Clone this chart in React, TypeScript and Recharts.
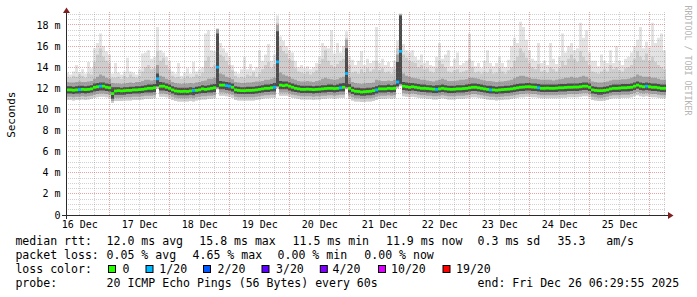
import React from 'react';
import { ComposedChart, Area, Scatter, XAxis, YAxis, ReferenceLine } from 'recharts';

// ---- time base: 10 days, 200 samples of 72 min, start Dec 16 06:30 ----
const STEP_MIN = 72;
const SPAN_MIN = 14400;
const FIRST_NOON = 330; // minutes from start to Dec 16 12:00
const FIRST_MIDNIGHT = 1050; // minutes from start to Dec 17 00:00

const dayLabels = ['16 Dec', '17 Dec', '18 Dec', '19 Dec', '20 Dec', '21 Dec', '22 Dec', '23 Dec', '24 Dec', '25 Dec'];
const yTicks = [0, 2, 4, 6, 8, 10, 12, 14, 16, 18];

// median rtt (ms)
const median = [
  11.85, 11.85, 11.82, 11.85, 11.88, 11.9, 11.88, 11.9, 11.95, 12.1,
  12.15, 12.2, 12.2, 12.1, 12.05, 11.5, 11.75, 11.78, 11.75, 11.78,
  11.8, 11.8, 11.85, 11.85, 11.88, 11.9, 11.95, 12.0, 12.0, 12.05,
  12.9, 12.2, 12.2, 12.1, 12.0, 11.85, 11.75, 11.72, 11.7, 11.72,
  11.7, 11.75, 11.8, 11.8, 11.85, 11.95, 11.9, 11.95, 12.0, 12.05,
  14.0, 12.3, 12.3, 12.25, 12.2, 12.1, 11.85, 11.8, 11.78, 11.78,
  11.8, 11.8, 11.82, 11.85, 11.9, 11.95, 12.0, 12.0, 12.05, 12.1,
  14.5, 12.3, 12.25, 12.3, 12.2, 12.1, 12.0, 11.95, 11.9, 11.9,
  11.92, 11.9, 11.88, 11.9, 11.92, 11.95, 11.98, 12.0, 12.0, 11.98,
  12.0, 12.05, 12.1, 13.4, 12.0, 11.8, 11.72, 11.7, 11.65, 11.68,
  11.7, 11.72, 11.78, 11.85, 11.95, 11.95, 11.95, 12.0, 11.98, 12.0,
  12.6, 15.5, 12.2, 12.15, 12.1, 12.15, 12.1, 12.05, 12.0, 12.0,
  11.98, 11.95, 11.92, 11.9, 11.95, 12.0, 11.95, 11.92, 11.9, 11.92,
  11.95, 11.95, 11.98, 12.0, 12.05, 12.1, 12.1, 12.05, 12.0, 11.95,
  11.9, 11.85, 11.85, 11.82, 11.85, 11.88, 11.9, 11.92, 11.95, 12.0,
  12.05, 12.1, 12.12, 12.15, 12.15, 12.12, 12.1, 12.05, 12.0, 12.0,
  12.02, 12.0, 12.0, 12.02, 12.05, 12.05, 12.08, 12.1, 12.1, 12.12,
  12.12, 12.15, 12.2, 12.2, 12.1, 11.85, 11.8, 11.78, 11.78, 11.8,
  11.85, 11.95, 12.0, 12.0, 12.02, 12.05, 12.05, 12.08, 12.1, 12.2,
  12.3, 12.2, 12.15, 12.2, 12.15, 12.1, 12.1, 12.05, 12.0, 12.0,
];

// sample indices whose median carries 1/20 packet loss
const lossPoints = [4, 11, 30, 42, 50, 53, 54, 69, 70, 91, 93, 103, 110, 111, 123, 141, 157, 193];

// darkest smoke band (top / bottom)
const darkHi = [
  12.2, 12.2, 12.15, 12.2, 12.25, 12.25, 12.2, 12.25, 12.3, 12.45,
  12.5, 12.55, 12.55, 12.45, 12.4, 12.1, 12.1, 12.1, 12.05, 12.1,
  12.1, 12.15, 12.15, 12.2, 12.2, 12.25, 12.3, 12.35, 12.35, 12.4,
  13.4, 12.6, 12.55, 12.45, 12.35, 12.2, 12.1, 12.05, 12.05, 12.05,
  12.05, 12.1, 12.05, 12.15, 12.2, 12.3, 12.25, 12.3, 12.35, 12.4,
  17.2, 12.7, 12.65, 12.6, 12.55, 12.45, 12.2, 12.15, 12.1, 12.1,
  12.15, 12.15, 12.15, 12.2, 12.25, 12.3, 12.35, 12.35, 12.4, 12.5,
  17.4, 12.7, 12.65, 12.65, 12.55, 12.45, 12.35, 12.3, 12.25, 12.25,
  12.25, 12.25, 12.2, 12.25, 12.25, 12.3, 12.3, 12.35, 12.35, 12.3,
  12.35, 12.45, 12.5, 15.8, 12.4, 12.15, 12.05, 12.05, 12.0, 12.0,
  12.05, 12.05, 12.1, 12.2, 12.3, 12.3, 12.3, 12.35, 12.3, 12.35,
  14.5, 18.9, 12.6, 12.55, 12.5, 12.5, 12.45, 12.4, 12.35, 12.35,
  12.3, 12.3, 12.25, 12.3, 12.3, 12.35, 12.3, 12.25, 12.25, 12.25,
  12.3, 12.3, 12.3, 12.35, 12.4, 12.45, 12.45, 12.4, 12.35, 12.3,
  12.25, 12.25, 12.2, 12.15, 12.2, 12.2, 12.25, 12.25, 12.3, 12.35,
  12.4, 12.45, 12.45, 12.5, 12.5, 12.45, 12.45, 12.4, 12.35, 12.35,
  12.35, 12.35, 12.35, 12.35, 12.4, 12.4, 12.4, 12.45, 12.45, 12.45,
  12.45, 12.5, 12.55, 12.55, 12.45, 12.2, 12.15, 12.1, 12.1, 12.15,
  12.2, 12.3, 12.35, 12.35, 12.35, 12.4, 12.4, 12.4, 12.45, 12.55,
  12.65, 12.55, 12.5, 12.55, 12.5, 12.45, 12.45, 12.4, 12.35, 12.35,
];
const darkLo = [
  11.5, 11.5, 11.45, 11.5, 11.5, 11.55, 11.5, 11.55, 11.6, 11.7,
  11.75, 11.8, 11.8, 11.75, 11.7, 11.0, 11.4, 11.4, 11.4, 11.4,
  11.45, 11.45, 11.5, 11.5, 11.5, 11.55, 11.6, 11.6, 11.6, 11.65,
  12.2, 11.8, 11.8, 11.75, 11.65, 11.5, 11.4, 11.35, 11.35, 11.35,
  11.35, 11.4, 11.35, 11.45, 11.5, 11.55, 11.55, 11.6, 11.6, 11.65,
  12.1, 11.9, 11.9, 11.85, 11.8, 11.7, 11.5, 11.45, 11.45, 11.45,
  11.45, 11.45, 11.45, 11.5, 11.55, 11.6, 11.65, 11.65, 11.7, 11.7,
  12.2, 11.9, 11.9, 11.9, 11.8, 11.7, 11.65, 11.6, 11.55, 11.55,
  11.55, 11.55, 11.5, 11.55, 11.55, 11.6, 11.6, 11.65, 11.65, 11.6,
  11.65, 11.7, 11.7, 12.1, 11.6, 11.45, 11.35, 11.35, 11.3, 11.3,
  11.35, 11.35, 11.4, 11.5, 11.6, 11.6, 11.6, 11.65, 11.6, 11.65,
  12.2, 12.4, 11.85, 11.8, 11.75, 11.8, 11.75, 11.7, 11.65, 11.65,
  11.6, 11.6, 11.55, 11.55, 11.6, 11.65, 11.6, 11.55, 11.55, 11.55,
  11.6, 11.6, 11.6, 11.65, 11.7, 11.75, 11.75, 11.7, 11.65, 11.6,
  11.55, 11.5, 11.5, 11.45, 11.5, 11.5, 11.55, 11.55, 11.6, 11.65,
  11.7, 11.75, 11.75, 11.8, 11.8, 11.75, 11.75, 11.7, 11.65, 11.65,
  11.65, 11.65, 11.65, 11.65, 11.7, 11.7, 11.7, 11.75, 11.75, 11.75,
  11.75, 11.8, 11.85, 11.85, 11.75, 11.5, 11.45, 11.4, 11.4, 11.45,
  11.5, 11.6, 11.65, 11.65, 11.65, 11.7, 11.7, 11.7, 11.75, 11.85,
  11.95, 11.85, 11.8, 11.85, 11.8, 11.75, 11.75, 11.7, 11.65, 11.65,
];

// middle smoke band (top / bottom)
const midHi = [
  12.6, 12.55, 12.55, 12.6, 12.65, 12.6, 12.6, 12.65, 12.7, 12.9,
  13.1, 13.3, 13.2, 13.0, 12.9, 12.5, 12.45, 12.45, 12.4, 12.45,
  12.5, 12.55, 12.5, 12.6, 12.6, 12.7, 12.8, 12.8, 12.75, 12.8,
  14.2, 13.2, 13.1, 12.9, 12.8, 12.6, 12.5, 12.45, 12.4, 12.45,
  12.45, 12.5, 12.45, 12.55, 12.6, 12.7, 12.75, 12.9, 12.9, 13.0,
  17.6, 13.4, 13.3, 13.1, 13.0, 12.85, 12.6, 12.55, 12.5, 12.5,
  12.55, 12.55, 12.6, 12.65, 12.65, 12.7, 12.8, 12.8, 12.9, 13.0,
  18.0, 13.5, 13.3, 13.2, 13.1, 12.9, 12.8, 12.7, 12.65, 12.65,
  12.7, 12.65, 12.6, 12.7, 12.75, 12.9, 13.0, 12.9, 12.85, 12.8,
  12.85, 13.0, 13.1, 16.6, 13.0, 12.6, 12.5, 12.45, 12.4, 12.45,
  12.5, 12.5, 12.55, 12.8, 12.75, 12.7, 12.7, 12.75, 12.7, 12.8,
  15.2, 19.0, 13.4, 13.2, 13.1, 13.0, 12.95, 12.9, 12.8, 12.8,
  12.75, 12.7, 12.65, 12.75, 12.8, 12.9, 12.8, 12.7, 12.7, 12.7,
  12.75, 12.8, 12.8, 12.85, 13.0, 13.0, 12.95, 12.9, 12.8, 12.75,
  12.7, 12.7, 12.65, 12.6, 12.65, 12.65, 12.7, 12.75, 12.8, 12.95,
  13.1, 13.2, 13.2, 13.1, 13.0, 12.9, 12.9, 12.85, 12.8, 12.8,
  12.8, 12.8, 12.75, 12.8, 12.85, 12.9, 13.0, 13.0, 13.1, 13.0,
  13.0, 13.1, 13.2, 13.1, 12.9, 12.65, 12.6, 12.55, 12.55, 12.6,
  12.65, 12.75, 12.8, 12.8, 12.8, 12.85, 12.85, 12.9, 13.0, 13.1,
  13.3, 13.2, 13.1, 13.1, 13.1, 13.0, 13.0, 12.9, 12.8, 12.8,
];
const midLo = [
  11.2, 11.2, 11.15, 11.2, 11.2, 11.25, 11.2, 11.25, 11.3, 11.4,
  11.45, 11.5, 11.5, 11.45, 11.4, 10.8, 11.1, 11.1, 11.1, 11.15,
  11.15, 11.15, 11.2, 11.2, 11.2, 11.25, 11.3, 11.3, 11.3, 11.35,
  12.1, 11.5, 11.5, 11.45, 11.35, 11.2, 11.1, 11.05, 11.05, 11.05,
  11.05, 11.1, 11.05, 11.15, 11.2, 11.25, 11.25, 11.3, 11.3, 11.35,
  12.0, 11.6, 11.6, 11.55, 11.5, 11.4, 11.2, 11.15, 11.15, 11.15,
  11.15, 11.15, 11.15, 11.2, 11.25, 11.3, 11.35, 11.35, 11.4, 11.4,
  12.1, 11.6, 11.6, 11.6, 11.5, 11.4, 11.35, 11.3, 11.25, 11.25,
  11.25, 11.25, 11.2, 11.25, 11.25, 11.3, 11.3, 11.35, 11.35, 11.3,
  11.35, 11.4, 11.4, 12.0, 11.3, 11.15, 11.05, 11.05, 11.0, 11.0,
  11.05, 11.05, 11.1, 11.2, 11.3, 11.3, 11.3, 11.35, 11.3, 11.35,
  12.1, 12.3, 11.55, 11.5, 11.45, 11.5, 11.45, 11.4, 11.35, 11.35,
  11.3, 11.3, 11.25, 11.25, 11.3, 11.35, 11.3, 11.25, 11.25, 11.25,
  11.3, 11.3, 11.3, 11.35, 11.4, 11.45, 11.45, 11.4, 11.35, 11.3,
  11.25, 11.2, 11.2, 11.15, 11.2, 11.2, 11.25, 11.25, 11.3, 11.35,
  11.4, 11.45, 11.45, 11.5, 11.5, 11.45, 11.45, 11.4, 11.35, 11.35,
  11.35, 11.35, 11.35, 11.35, 11.4, 11.4, 11.4, 11.45, 11.45, 11.45,
  11.45, 11.5, 11.55, 11.55, 11.45, 11.2, 11.15, 11.1, 11.1, 11.15,
  11.2, 11.3, 11.35, 11.35, 11.35, 11.4, 11.4, 11.4, 11.45, 11.55,
  11.65, 11.55, 11.5, 11.55, 11.5, 11.45, 11.45, 11.4, 11.35, 11.35,
];

// light smoke band top
const lightHi = [
  13.1, 13.0, 13.2, 13.1, 13.3, 13.2, 13.0, 13.4, 13.3, 14.5,
  15.2, 15.8, 15.0, 14.6, 14.4, 13.0, 13.0, 13.1, 12.9, 13.2,
  13.0, 13.3, 13.1, 13.0, 13.2, 13.6, 14.0, 14.2, 13.8, 13.9,
  15.5, 14.6, 14.9, 14.2, 13.8, 13.2, 13.0, 13.1, 12.9, 13.0,
  13.2, 13.0, 13.1, 13.3, 13.2, 13.5, 14.6, 15.0, 14.0, 14.2,
  17.65, 15.2, 15.0, 14.6, 14.2, 13.7, 13.2, 13.0, 13.1, 13.0,
  13.3, 13.2, 13.5, 13.1, 13.4, 13.8, 14.2, 14.5, 13.9, 14.3,
  18.2, 16.0, 15.5, 15.3, 14.8, 14.6, 13.9, 13.6, 13.5, 13.4,
  13.6, 13.3, 13.5, 13.7, 14.3, 14.8, 15.6, 14.6, 14.2, 14.0,
  14.3, 14.6, 14.8, 16.8, 14.2, 13.5, 13.6, 13.4, 13.8, 13.5,
  13.9, 13.6, 13.8, 14.6, 13.7, 13.9, 13.5, 13.6, 13.4, 13.8,
  15.8, 19.0, 15.2, 14.9, 14.6, 14.5, 14.4, 14.0, 14.2, 13.8,
  13.9, 13.6, 13.5, 13.9, 14.6, 14.3, 14.0, 13.6, 13.5, 13.7,
  13.8, 13.5, 13.6, 13.7, 14.8, 14.0, 13.5, 13.6, 13.4, 13.6,
  13.5, 13.8, 13.4, 13.5, 13.9, 13.6, 13.4, 13.7, 14.0, 14.6,
  15.0, 15.8, 15.4, 14.9, 14.4, 14.0, 13.8, 14.3, 13.6, 13.7,
  13.5, 14.0, 13.8, 13.6, 13.9, 14.6, 14.2, 14.8, 15.2, 14.8,
  14.5, 15.5, 15.0, 14.6, 14.2, 13.6, 13.5, 13.4, 13.6, 13.8,
  13.6, 14.2, 13.8, 14.0, 13.7, 13.6, 13.9, 14.0, 14.2, 14.8,
  15.5, 15.0, 14.7, 15.3, 14.6, 15.0, 14.5, 14.2, 14.0, 13.8,
];

// maximum rtt (outer smoke top) and minimum rtt (smoke bottom)
const maxRtt = [
  13.5, 13.3, 13.6, 14.2, 13.5, 13.8, 13.4, 14.5, 13.9, 15.8,
  16.3, 17.2, 16.0, 15.5, 15.2, 13.4, 14.4, 13.5, 13.3, 13.6,
  14.9, 13.6, 13.5, 13.3, 13.8, 15.3, 15.4, 15.6, 14.8, 15.0,
  17.8, 15.6, 15.4, 15.0, 14.6, 13.6, 13.4, 14.4, 13.2, 13.5,
  13.9, 13.4, 14.5, 13.6, 13.8, 14.0, 17.2, 17.5, 15.6, 15.5,
  17.7, 16.3, 15.8, 15.4, 15.0, 14.2, 13.6, 13.4, 13.8, 15.0,
  13.8, 14.3, 13.7, 14.0, 15.6, 14.6, 15.2, 16.2, 14.6, 15.2,
  18.9, 16.9, 16.5, 16.0, 15.6, 15.4, 14.6, 14.0, 14.2, 13.9,
  14.1, 13.8, 14.0, 14.4, 15.0, 16.3, 16.0, 15.8, 17.5, 15.3,
  16.3, 15.4, 16.0, 17.4, 15.0, 14.7, 14.2, 14.6, 15.5, 14.2,
  14.8, 14.4, 14.6, 17.8, 14.4, 14.8, 14.2, 14.5, 14.0, 14.6,
  16.5, 19.1, 16.2, 15.6, 15.4, 15.6, 15.0, 14.7, 15.2, 14.4,
  14.6, 14.2, 14.1, 15.0, 16.3, 14.8, 15.2, 15.6, 14.1, 14.8,
  15.4, 14.2, 14.4, 14.6, 17.2, 14.6, 14.1, 14.4, 13.9, 14.6,
  15.6, 14.4, 14.1, 14.4, 15.0, 14.4, 14.0, 14.7, 16.0, 16.8,
  16.3, 18.3, 17.8, 16.6, 15.6, 14.8, 14.6, 16.3, 14.4, 14.6,
  14.2, 16.3, 14.8, 14.3, 15.0, 17.2, 15.4, 16.0, 16.3, 15.6,
  15.8, 18.2, 16.8, 17.5, 15.4, 14.6, 14.6, 14.1, 15.2, 14.6,
  14.4, 15.6, 14.4, 16.0, 14.6, 14.2, 14.8, 15.0, 15.4, 16.0,
  16.6, 17.8, 15.8, 16.4, 15.9, 18.2, 16.3, 16.8, 17.2, 15.6,
];
const minRtt = [
  10.9, 10.9, 10.85, 10.9, 10.9, 10.95, 10.9, 10.95, 11.0, 11.1,
  11.15, 11.2, 11.2, 11.15, 11.1, 10.6, 10.8, 10.8, 10.8, 10.85,
  10.85, 10.85, 10.9, 10.9, 10.9, 10.95, 11.0, 11.0, 11.0, 11.05,
  11.95, 11.2, 11.2, 11.15, 11.05, 10.9, 10.8, 10.75, 10.75, 10.75,
  10.75, 10.8, 10.75, 10.85, 10.9, 10.95, 10.95, 11.0, 11.0, 11.05,
  11.9, 11.3, 11.3, 11.25, 11.2, 11.1, 10.9, 10.85, 10.85, 10.85,
  10.85, 10.85, 10.85, 10.9, 10.95, 11.0, 11.05, 11.05, 11.1, 11.1,
  12.0, 11.3, 11.3, 11.3, 11.2, 11.1, 11.05, 11.0, 10.95, 10.95,
  10.95, 10.95, 10.9, 10.95, 10.95, 11.0, 11.0, 11.05, 11.05, 11.0,
  11.05, 11.1, 11.1, 11.9, 11.0, 10.85, 10.75, 10.75, 10.7, 10.7,
  10.75, 10.75, 10.8, 10.9, 11.0, 11.0, 11.0, 11.05, 11.0, 11.05,
  12.0, 12.2, 11.25, 11.2, 11.15, 11.2, 11.15, 11.1, 11.05, 11.05,
  11.0, 11.0, 10.95, 10.95, 11.0, 11.05, 11.0, 10.95, 10.95, 10.95,
  11.0, 11.0, 11.0, 11.05, 11.1, 11.15, 11.15, 11.1, 11.05, 11.0,
  10.95, 10.9, 10.9, 10.85, 10.9, 10.9, 10.95, 10.95, 11.0, 11.05,
  11.1, 11.15, 11.15, 11.2, 11.2, 11.15, 11.15, 11.1, 11.05, 11.05,
  11.05, 11.05, 11.05, 11.05, 11.1, 11.1, 11.1, 11.15, 11.15, 11.15,
  11.15, 11.2, 11.25, 11.25, 11.15, 10.9, 10.85, 10.8, 10.8, 10.85,
  10.9, 11.0, 11.05, 11.05, 11.05, 11.1, 11.1, 11.1, 11.15, 11.25,
  11.35, 11.25, 11.2, 11.25, 11.2, 11.15, 11.15, 11.1, 11.05, 11.05,
];

// legend contents
const rttStats = ['12.0 ms avg', '15.8 ms max', '11.5 ms min', '11.9 ms now', '0.3 ms sd', '35.3   am/s'];
const lossStats = ['0.05 % avg', '4.65 % max', '0.00 % min', '0.00 % now'];
const lossLevels = ['0', '1/20', '2/20', '3/20', '4/20', '10/20', '19/20'];
const lossColors = ['#26ff00', '#00b8ff', '#0059ff', '#5e00ff', '#7e00ff', '#dd00ff', '#ff0000'];
const probeText = '20 ICMP Echo Pings (56 Bytes) every 60s';
const endText = 'end: Fri Dec 26 06:29:55 2025';

// ---- layout (positions only) ----
const rttX = [106.6, 199.3, 292.6, 386, 477.6, 557.6];
const lossX = [106.6, 192.6, 277.6, 364.3];
const boxX = [108, 145.5, 203, 261.5, 319.8, 378, 442.5];
const levelX = [122.6, 159.3, 217.6, 276, 332.6, 391, 456];

const lossSet = new Set(lossPoints);
const rows: any[] = median.map((m, i) => ({
  t: i * STEP_MIN,
  med: m,
  loss: lossSet.has(i) ? 1 : 0,
  b1: [minRtt[i], maxRtt[i]],
  b2: [minRtt[i], lightHi[i]],
  b3: [midLo[i], midHi[i]],
  b4: [darkLo[i], darkHi[i]],
}));
const last = rows[rows.length - 1];
rows.push({ t: SPAN_MIN, med: null, loss: 0, b1: last.b1, b2: last.b2, b3: last.b3, b4: last.b4, end: true });

const noonTicks = dayLabels.map((_, k) => FIRST_NOON + 1440 * k);
const majorV = dayLabels.map((_, k) => FIRST_MIDNIGHT + 1440 * k);
const minorV: number[] = [];
for (let t = FIRST_NOON; t < SPAN_MIN; t += 360) if ((t - FIRST_MIDNIGHT) % 1440 !== 0) minorV.push(t);
const minorH: number[] = [];
for (let v = 0.5; v <= 19; v += 0.5) if (v % 2 !== 0) minorH.push(v);
const majorH = yTicks.filter((v) => v > 0);

const MONO = 'DejaVu Sans Mono';
const MINOR = 'rgba(120,120,120,0.34)';
const MAJOR = 'rgba(215,60,60,0.48)';

const Dash = (props: any) => {
  const { cx, cy, payload } = props;
  if (!payload || payload.end || payload.med == null || cx == null || cy == null || isNaN(cy)) return <g />;
  return <rect x={cx} y={cy - 1.4} width={3.2} height={2.8} fill={payload.loss ? lossColors[1] : lossColors[0]} />;
};

export default function App() {
  const txt = { fontFamily: MONO, fontSize: 11.55, fill: '#000', whiteSpace: 'pre' as any };
  return (
    <div style={{ position: 'absolute', left: 0, top: 0, width: 697, height: 297, background: '#fff' }}>
      <ComposedChart width={697} height={297} data={rows} margin={{ top: 12.3, right: 31, bottom: 52, left: 0 }}>
        <XAxis
          dataKey="t"
          type="number"
          domain={[0, SPAN_MIN]}
          ticks={noonTicks}
          interval={0}
          tickFormatter={(v: number) => dayLabels[Math.round((v - FIRST_NOON) / 1440)]}
          axisLine={false}
          tickLine={false}
          tickSize={0}
          tickMargin={6}
          height={30}
          tick={{ fontFamily: MONO, fontSize: 10, fill: '#000' }}
          allowDataOverflow
        />
        <YAxis
          type="number"
          domain={[0, 19.2]}
          ticks={yTicks}
          interval={0}
          tickFormatter={(v: number) => (v === 0 ? '0' : `${v} m`)}
          axisLine={false}
          tickLine={false}
          tickSize={0}
          tickMargin={5.5}
          width={66}
          tick={{ fontFamily: MONO, fontSize: 10, fill: '#000' }}
          allowDataOverflow
        />
        <Area dataKey="b1" type="stepAfter" stroke="none" fill="#e3e3e3" fillOpacity={1} dot={false} activeDot={false} isAnimationActive={false} />
        <Area dataKey="b2" type="stepAfter" stroke="none" fill="#cdcdcd" fillOpacity={1} dot={false} activeDot={false} isAnimationActive={false} />
        <Area dataKey="b3" type="stepAfter" stroke="none" fill="#a2a2a2" fillOpacity={1} dot={false} activeDot={false} isAnimationActive={false} />
        <Area dataKey="b4" type="stepAfter" stroke="none" fill="#4c4c4c" fillOpacity={1} dot={false} activeDot={false} isAnimationActive={false} />
        {minorH.map((v) => (
          <ReferenceLine key={'mh' + v} y={v} stroke={MINOR} strokeDasharray="1 1" shapeRendering="crispEdges" />
        ))}
        {minorV.map((t) => (
          <ReferenceLine key={'mv' + t} x={t} stroke={MINOR} strokeDasharray="1 1" shapeRendering="crispEdges" />
        ))}
        {majorH.map((v) => (
          <ReferenceLine key={'Mh' + v} y={v} stroke={MAJOR} strokeDasharray="1 1" shapeRendering="crispEdges" />
        ))}
        {majorV.map((t) => (
          <ReferenceLine key={'Mv' + t} x={t} stroke={MAJOR} strokeDasharray="1 1" shapeRendering="crispEdges" />
        ))}
        <Scatter dataKey="med" shape={Dash} isAnimationActive={false} />
      </ComposedChart>
      <svg width={697} height={297} style={{ position: 'absolute', left: 0, top: 0, pointerEvents: 'none' }}>
        {/* axes */}
        <line x1={66.5} y1={219} x2={66.5} y2={12} stroke="#2a2a2a" strokeWidth={1} />
        <line x1={62} y1={215.5} x2={669} y2={215.5} stroke="#2a2a2a" strokeWidth={1} />
        <polygon points="63,13 66.5,7.5 70,13" fill="#801f1f" />
        <polygon points="668,212 673.5,215.5 668,219" fill="#801f1f" />
        {/* axis title */}
        <text transform="translate(15,114.7) rotate(-90)" textAnchor="middle" fontFamily={MONO} fontSize={11} fill="#000">
          Seconds
        </text>
        <text transform="translate(685,5.5) rotate(90)" textAnchor="start" fontFamily={MONO} fontSize={8.3} fill="#b4b4b4">
          RRDTOOL / TOBI OETIKER
        </text>
        {/* legend */}
        <text x={15.4} y={245} style={txt}>median rtt:</text>
        {rttStats.map((s, k) => (
          <text key={'r' + k} x={rttX[k]} y={245} style={txt}>{s}</text>
        ))}
        <text x={15.4} y={259} style={txt}>packet loss:</text>
        {lossStats.map((s, k) => (
          <text key={'l' + k} x={lossX[k]} y={259} style={txt}>{s}</text>
        ))}
        <text x={15.4} y={273} style={txt}>loss color:</text>
        {lossLevels.map((s, k) => (
          <g key={'c' + k}>
            <rect x={boxX[k] + 0.5} y={265.5} width={7} height={7} fill={lossColors[k]} stroke="#000" strokeWidth={1} />
            <text x={levelX[k]} y={273} style={txt}>{s}</text>
          </g>
        ))}
        <text x={15.4} y={287} style={txt}>probe:</text>
        <text x={106.6} y={287} style={txt}>{probeText}</text>
        <text x={477.6} y={287} style={txt}>{endText}</text>
      </svg>
    </div>
  );
}
